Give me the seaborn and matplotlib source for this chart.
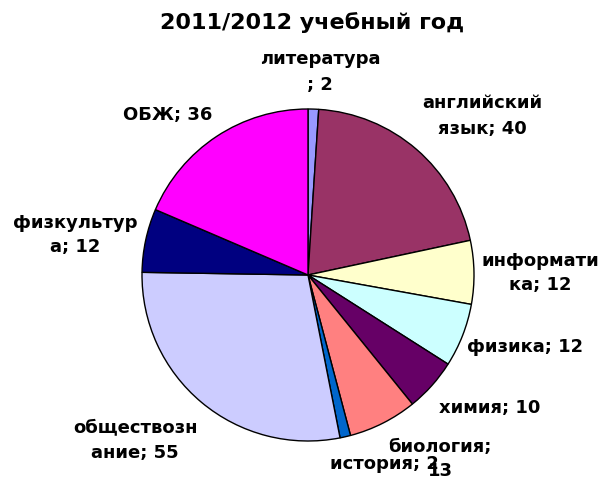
import matplotlib
matplotlib.use("Agg")
import matplotlib.pyplot as plt
import seaborn as sns

sns.set_theme(style="white")
plt.rcParams['font.family'] = ['DejaVu Sans']

title = "2011/2012 учебный год"
labels = ["литература\n; 2", "английский\nязык; 40", "информати\nка; 12", "физика; 12",
          "химия; 10", "биология;\n13", "история; 2", "обществозн\nание; 55",
          "физкультур\nа; 12", "ОБЖ; 36"]
values = [2, 40, 12, 12, 10, 13, 2, 55, 12, 36]
colors = ["#9999FF", "#993366", "#FFFFCC", "#CCFFFF", "#660066", "#FF8080",
          "#0066CC", "#CCCCFF", "#000080", "#FF00FF"]
# label centres in pixels (layout)
label_pos = [(320, 72), (482, 116), (540, 273), (525, 347), (490, 408),
             (440, 459), (384, 464), (135, 440), (75, 235), (168, 115)]

W, H = 604, 484
fig = plt.figure(figsize=(W / 100, H / 100), dpi=100)
cx, cy, r = 308, 275, 166
ax = fig.add_axes([(cx - r) / W, (H - cy - r) / H, 2 * r / W, 2 * r / H])
ax.pie(values, colors=colors, startangle=90, counterclock=False, radius=1,
       wedgeprops=dict(edgecolor="black", linewidth=1.0))
ax.set_xlim(-1, 1)
ax.set_ylim(-1, 1)
ax.set_aspect("equal")
ax.axis("off")

for lab, (px, py) in zip(labels, label_pos):
    fig.text(px / W, 1 - py / H, lab, ha="center", va="center", fontsize=13,
             fontweight="bold", color="black", linespacing=1.5)

fig.text(312 / W, 1 - 23 / H, title, ha="center", va="center", fontsize=16,
         fontweight="bold", color="black")

fig.savefig("out.png", dpi=100)
